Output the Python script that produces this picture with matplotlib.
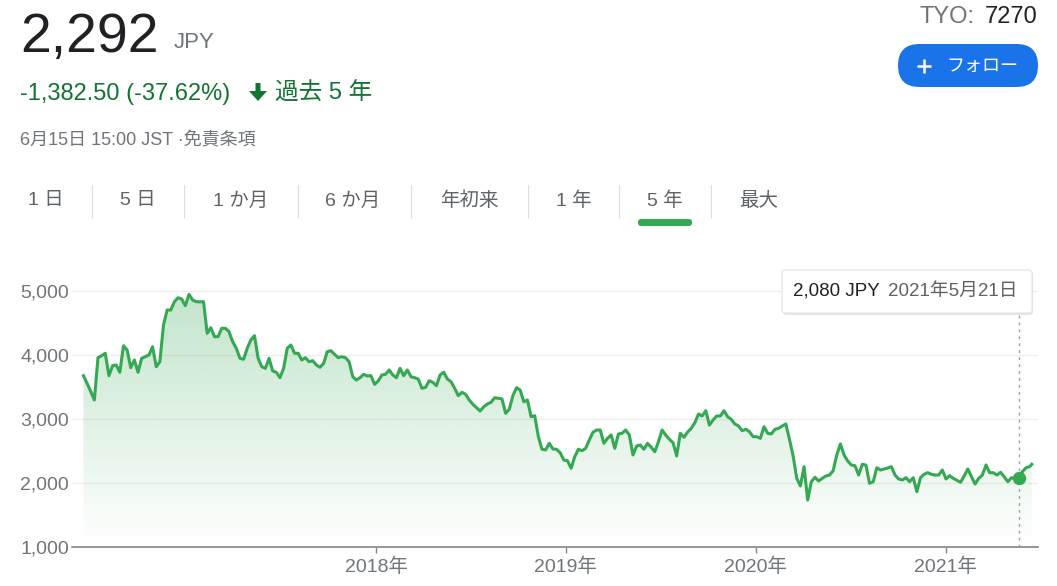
import numpy as np
import pandas as pd
import matplotlib
matplotlib.use('Agg')
import matplotlib.pyplot as plt
import matplotlib.dates as mdates
from matplotlib.patches import FancyBboxPatch, Polygon

plt.rcParams['font.family'] = ['Liberation Sans', 'Noto Sans CJK JP', 'DejaVu Sans']

# weekly closes (JPY), 2016-06-17 .. 2021-06-11
weekly_close = [
    3677, 3558, 3430, 3297, 3958, 3990, 4027, 3677, 3833, 3844, 3730, 4145, 4078, 3802,
    3922, 3730, 3948, 3973, 4000, 4130, 3817, 3895, 4469, 4703, 4703, 4833, 4895, 4875,
    4770, 4948, 4859, 4833, 4830, 4833, 4339, 4427, 4286, 4286, 4417, 4417, 4364, 4208,
    4105, 3948, 3933, 4105, 4234, 4302, 3948, 3817, 3792, 3948, 3750, 3730, 3645, 3792,
    4105, 4156, 4027, 4027, 3922, 3958, 3895, 3911, 3844, 3808, 3870, 4052, 4067, 4011,
    3958, 3973, 3958, 3895, 3661, 3609, 3645, 3698, 3672, 3677, 3542, 3594,
    3688, 3698, 3766, 3688, 3645, 3792, 3677, 3766, 3661, 3645, 3625, 3480, 3495, 3598,
    3573, 3520, 3688, 3730, 3625, 3583, 3480, 3364, 3417, 3386, 3297, 3230, 3177, 3125,
    3192, 3234, 3261, 3333, 3323, 3313, 3089, 3152, 3364, 3489, 3453, 3270, 3297, 3036,
    3052, 2723, 2527, 2516, 2620, 2531, 2527, 2473, 2359, 2348,
    2230, 2411, 2527, 2505, 2542, 2672, 2792, 2828, 2828, 2620, 2698, 2750, 2542, 2766,
    2777, 2828, 2750, 2438, 2578, 2594, 2527, 2620, 2558, 2489, 2645, 2828, 2750, 2683,
    2630, 2422, 2777, 2714, 2795, 2855, 2942, 3078, 3047, 3130, 2906, 2984, 3047, 3047,
    3130, 3036, 2995, 2922, 2891, 2817, 2839, 2802, 2723, 2723,
    2698, 2880, 2777, 2766, 2839, 2855, 2890, 2922, 2683, 2422, 2073, 1953, 2255, 1734,
    2020, 2089, 2031, 2073, 2109, 2125, 2192, 2438, 2610, 2438, 2344, 2281, 2270, 2125,
    2292, 2281, 1995, 2020, 2239, 2203, 2219, 2234, 2255, 2125, 2063, 2047, 2083, 2020,
    2083, 1864, 2083, 2136, 2161, 2136, 2125, 2125, 2203, 2063,
    2114, 2073, 2042, 2011, 2109, 2219, 2098, 1984, 2073, 2125, 2281, 2161, 2161, 2125,
    2167, 2098, 2020, 2083, 2063, 2080, 2177, 2239, 2255,
]
last_date = '2021-06-15'
last_close = 2292
hover_date = '2021-05-21'

dates = list(pd.date_range('2016-06-17', periods=len(weekly_close), freq='7D')) + [pd.Timestamp(last_date)]
prices = weekly_close + [last_close]

y_ticks = [1000, 2000, 3000, 4000, 5000]
year_ticks = [2018, 2019, 2020, 2021]
tab_labels = ['1 日', '5 日', '1 か月', '6 か月', '年初来', '1 年', '5 年', '最大']

GREEN = '#34a853'
DARK_GREEN = '#137333'
GRAY = '#70757a'

W, H = 1057, 586
fig = plt.figure(figsize=(W / 100, H / 100), dpi=100)

# main chart (pixel layout: x 72..1038, y 272..547)
ax = fig.add_axes([72 / W, 1 - 547 / H, (1038 - 72) / W, (547 - 272) / H])
xn = mdates.date2num(dates)

fill = ax.fill_between(xn, prices, 1000, color='none', lw=0)
grad = np.zeros((256, 1, 4))
grad[..., :3] = matplotlib.colors.to_rgb(GREEN)
grad[:, 0, 3] = np.linspace(0.30, 0.0, 256)
im = ax.imshow(grad, aspect='auto', origin='upper', zorder=1,
               extent=[xn[0], xn[-1], 1000, max(prices)])
im.set_clip_path(fill.get_paths()[0], transform=ax.transData)

ax.plot(xn, prices, color=GREEN, lw=2.2, zorder=3, solid_joinstyle='round')

hd = pd.Timestamp(hover_date)
hv = prices[dates.index(hd)]
ax.axvline(mdates.date2num(hd), ymax=(547 - 313) / (547 - 272), color='#9aa0a6',
           lw=1, ls=(0, (2, 3)), zorder=2)
ax.plot(mdates.date2num(hd), hv, 'o', ms=8.6, color=GREEN, zorder=4)

ax.set_xlim(mdates.date2num(pd.Timestamp('2016-05-26')), mdates.date2num(pd.Timestamp('2021-06-27')))
ax.set_ylim(1000, 1000 + (547 - 272) / 64 * 1000)

ax.set_yticks(y_ticks)
ax.set_yticklabels([f'{v:,}' for v in y_ticks])
ax.yaxis.grid(True, color='#eeeeee', lw=1)
ax.set_axisbelow(True)
ax.tick_params(axis='y', length=0, pad=2, labelsize=14, labelcolor=GRAY)

ax.set_xticks([mdates.date2num(pd.Timestamp(f'{y}-01-01')) for y in year_ticks])
ax.set_xticklabels([f'{y}年' for y in year_ticks])
ax.tick_params(axis='x', length=4.5, width=1, color='#80868b', pad=3,
               labelsize=14, labelcolor=GRAY)

for s in ['top', 'right', 'left']:
    ax.spines[s].set_visible(False)
ax.spines['bottom'].set_color('#80868b')
ax.spines['bottom'].set_linewidth(1.2)
ax.patch.set_alpha(0)

# overlay in pixel coordinates for header, tabs and tooltip
ov = fig.add_axes([0, 0, 1, 1], zorder=5)
ov.set_xlim(0, W)
ov.set_ylim(H, 0)
ov.axis('off')
ov.patch.set_alpha(0)

ov.text(20, 52, '2,292', fontsize=40, color='#202124', va='baseline')
ov.text(174, 48, 'JPY', fontsize=16, color=GRAY, va='baseline')
ov.text(20, 100, '-1,382.50 (-37.62%)', fontsize=17, color=DARK_GREEN, va='baseline')
ov.add_patch(Polygon([(255.5, 83), (260.5, 83), (260.5, 91), (267, 91), (258, 101),
                      (249, 91), (255.5, 91)], closed=True, fc=DARK_GREEN, ec='none'))
ov.text(275, 100, '過去 5 年', fontsize=17, color=DARK_GREEN, va='baseline')
ov.text(20, 144, '6月15日 15:00 JST ·免責条項', fontsize=13, color=GRAY, va='baseline')

ov.text(920, 23, 'TYO:', fontsize=17, color=GRAY, va='baseline')
ov.text(1038, 23, '7270', fontsize=17, color='#202124', va='baseline', ha='right')

ov.add_patch(FancyBboxPatch((898, 44), 140, 43, boxstyle='round,pad=0,rounding_size=21.5',
                            fc='#1a73e8', ec='none'))
ov.plot([917, 931], [65.5, 65.5], color='white', lw=1.8, solid_capstyle='butt')
ov.plot([924, 924], [58.5, 72.5], color='white', lw=1.8, solid_capstyle='butt')
ov.text(946, 66, 'フォロー', fontsize=13, color='white', va='center', ha='left')

tab_x = [46, 138, 241, 353, 469, 574, 665, 759]
sep_x = [92, 184, 298, 411, 528, 619, 711]
for x, lab in zip(tab_x, tab_labels):
    ov.text(x, 201, lab, fontsize=14, color='#5f6368', va='center', ha='center')
for x in sep_x:
    ov.plot([x, x], [185, 217], color='#dadce0', lw=0.8)
ov.add_patch(FancyBboxPatch((638, 219), 54, 7, boxstyle='round,pad=0,rounding_size=3',
                            fc=GREEN, ec='none'))

# tooltip
ov.add_patch(FancyBboxPatch((783, 272), 250, 43, boxstyle='round,pad=0,rounding_size=3',
                            fc='black', ec='none', alpha=0.10))
ov.add_patch(FancyBboxPatch((782, 270), 250, 43, boxstyle='round,pad=0,rounding_size=3',
                            fc='white', ec='#e3e3e3', lw=0.8))
ov.text(793, 291.5, f'{hv:,} JPY', fontsize=13.5, color='#202124', va='center')
ov.text(888, 291.5, f'{hd.year}年{hd.month}月{hd.day}日', fontsize=13.5, color='#5f6368', va='center')

fig.savefig('out.png', dpi=100)
